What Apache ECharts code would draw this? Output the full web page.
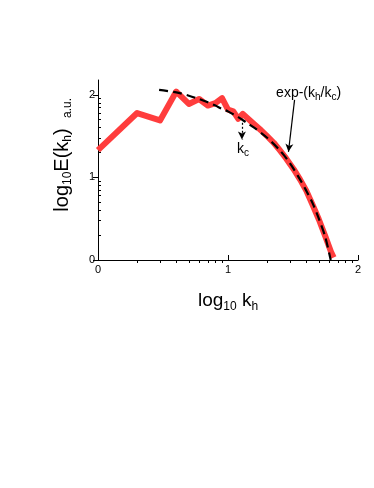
<!DOCTYPE html>
<html>
<head>
<meta charset="utf-8">
<script src="https://cdn.jsdelivr.net/npm/echarts@6/dist/echarts.min.js"></script>
<style>
  html, body { margin: 0; padding: 0; background: #fff; }
  #chart { width: 374px; height: 488px; }
</style>
</head>
<body>
<div id="chart"></div>
<script>
// log10 kh positions and log10 E(kh) values of the measured spectrum
const specX = [0, 0.301, 0.477, 0.602, 0.699, 0.778, 0.845, 0.903, 0.954, 1.0, 1.041, 1.079, 1.114,
  1.176, 1.204, 1.255, 1.301, 1.352, 1.398, 1.447, 1.505, 1.556, 1.602, 1.653, 1.699, 1.748, 1.792, 1.813];
const specY = [1.33, 1.78, 1.69, 2.04, 1.89, 1.95, 1.87, 1.90, 1.96, 1.82, 1.80, 1.71, 1.77,
  1.68, 1.64, 1.57, 1.50, 1.42, 1.33, 1.23, 1.10, 0.97, 0.84, 0.66, 0.49, 0.29, 0.10, 0.03];

// exp-(kh/kc) fit (dashed)
const fitX = [0.47, 0.602, 0.699, 0.778, 0.845, 0.903, 0.954, 1.0, 1.079, 1.146, 1.204, 1.301,
  1.398, 1.477, 1.556, 1.602, 1.653, 1.699, 1.748, 1.79];
const fitY = [2.06, 2.03, 1.99, 1.95, 1.91, 1.87, 1.83, 1.80, 1.73, 1.66, 1.60, 1.48,
  1.33, 1.17, 0.97, 0.84, 0.68, 0.50, 0.28, 0.0];

// ticks
const majorTicks = [0, 1, 2];
const minorX = [];
const minorY = [];
[0, 1].forEach(d => {
  for (let m = 2; m <= 9; m++) {
    minorX.push(d + Math.log10(m));
    minorY.push(d + Math.log10(m));
  }
});

// annotations (data coords)
const kcArrow = [[1.107, 1.71], [1.107, 1.46]];
const kcLabelPos = [1.115, 1.34];
const expArrow = [[1.512, 1.94], [1.465, 1.31]];
const expLabelPos = [1.62, 2.02];

const FONT = 'Liberation Sans, Arial, sans-serif';
const chart = echarts.init(document.getElementById('chart'));

const baseAxis = {
  type: 'value',
  splitLine: { show: false },
  axisLine: { show: true, onZero: false, lineStyle: { color: '#000', width: 1 } }
};

const option = {
  animation: false,
  backgroundColor: '#fff',
  grid: { left: 98, right: 16, top: 80, bottom: 228 },
  xAxis: [
    Object.assign({}, baseAxis, {
      min: 0, max: 2,
      axisTick: { show: true, inside: true, length: 5, customValues: majorTicks, lineStyle: { color: '#000' } },
      axisLabel: { customValues: majorTicks, color: '#000', fontSize: 11, fontFamily: FONT, margin: 4 },
      name: '{t|log}{s|10}{t| k}{s|h}',
      nameLocation: 'middle',
      nameGap: 29,
      nameTextStyle: {
        rich: {
          t: { fontSize: 19, fontFamily: FONT, color: '#000' },
          s: { fontSize: 12, fontFamily: FONT, color: '#000', padding: [12, 0, 0, 0] }
        }
      }
    }),
    Object.assign({}, baseAxis, {
      min: 0, max: 2,
      axisLine: { show: false },
      axisTick: { show: true, inside: true, length: 3, customValues: minorX, lineStyle: { color: '#000' } },
      axisLabel: { show: false }
    })
  ],
  yAxis: [
    Object.assign({}, baseAxis, {
      min: 0, max: 2.18,
      axisTick: { show: true, length: 5, customValues: majorTicks, lineStyle: { color: '#000' } },
      axisLabel: { customValues: majorTicks, color: '#000', fontSize: 11, fontFamily: FONT, margin: 3 },
      name: '{t|log}{s|10}{t|E(k}{s|h}{t|)}',
      nameLocation: 'middle',
      nameRotate: 90,
      nameGap: 24,
      nameTextStyle: {
        rich: {
          t: { fontSize: 20, fontFamily: FONT, color: '#000' },
          s: { fontSize: 12, fontFamily: FONT, color: '#000', padding: [12, 0, 0, 0] }
        }
      }
    }),
    Object.assign({}, baseAxis, {
      min: 0, max: 2.18,
      axisLine: { show: false },
      axisTick: { show: true, length: 3, customValues: minorY, lineStyle: { color: '#000' } },
      axisLabel: { show: false }
    })
  ],
  graphic: [
    {
      type: 'text',
      left: 62, top: 98,
      rotation: Math.PI / 2,
      style: { text: 'a.u.', fontSize: 12, fontFamily: FONT, fill: '#000' }
    }
  ],
  series: [
    {
      type: 'line',
      data: specX.map((x, i) => [x, specY[i]]),
      showSymbol: false,
      lineStyle: { color: '#ff3d3d', width: 6, join: 'round' },
      z: 2
    },
    {
      type: 'line',
      data: fitX.map((x, i) => [x, fitY[i]]),
      showSymbol: false,
      smooth: 0.3,
      lineStyle: { color: '#000', width: 2.2, type: [9, 5] },
      z: 3,
      markLine: {
        silent: true,
        symbol: ['none', 'arrow'],
        symbolSize: [6, 8],
        label: { show: false },
        data: [
          [{ coord: kcArrow[0], lineStyle: { type: [2, 2], width: 1.2, color: '#000' } }, { coord: kcArrow[1] }],
          [{ coord: expArrow[0], lineStyle: { type: 'solid', width: 1.2, color: '#000' } }, { coord: expArrow[1] }]
        ]
      },
      markPoint: {
        silent: true,
        symbolSize: 0,
        data: [
          {
            coord: kcLabelPos,
            label: {
              show: true,
              formatter: '{t|k}{s|c}',
              rich: {
                t: { fontSize: 14, fontFamily: FONT, color: '#000' },
                s: { fontSize: 10, fontFamily: FONT, color: '#000', padding: [8, 0, 0, 0] }
              }
            }
          },
          {
            coord: expLabelPos,
            label: {
              show: true,
              formatter: '{t|exp-(k}{s|h}{t|/k}{s|c}{t|)}',
              rich: {
                t: { fontSize: 14, fontFamily: FONT, color: '#000' },
                s: { fontSize: 10, fontFamily: FONT, color: '#000', padding: [8, 0, 0, 0] }
              }
            }
          }
        ]
      }
    }
  ]
};

chart.setOption(option);
</script>
</body>
</html>
